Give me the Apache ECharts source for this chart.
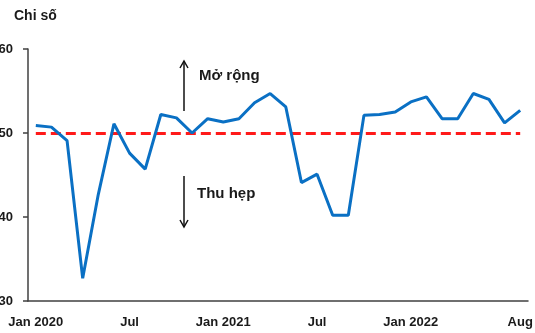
<!DOCTYPE html>
<html>
<head>
<meta charset="utf-8">
<script src="https://cdn.jsdelivr.net/npm/echarts@6/dist/echarts.min.js"></script>
<style>
  html, body { margin: 0; padding: 0; background: #ffffff; }
  #chart { width: 535px; height: 333px; }
</style>
</head>
<body>
<div id="chart"></div>
<script>
// Monthly index, Jan 2020 – Aug 2022
const months = [
  '2020-01','2020-02','2020-03','2020-04','2020-05','2020-06','2020-07','2020-08',
  '2020-09','2020-10','2020-11','2020-12','2021-01','2021-02','2021-03','2021-04',
  '2021-05','2021-06','2021-07','2021-08','2021-09','2021-10','2021-11','2021-12',
  '2022-01','2022-02','2022-03','2022-04','2022-05','2022-06','2022-07','2022-08'
];
const indexValues = [
  50.9, 50.7, 49.1, 32.7, 42.7, 51.1, 47.6, 45.7,
  52.2, 51.8, 50.0, 51.7, 51.3, 51.7, 53.6, 54.7,
  53.1, 44.1, 45.1, 40.2, 40.2, 52.1, 52.2, 52.5,
  53.7, 54.3, 51.7, 51.7, 54.7, 54.0, 51.2, 52.7
];
// Expansion / contraction threshold
const threshold = 50;
// Labels shown on the month axis
const tickMonths = ['2020-01','2020-07','2021-01','2021-07','2022-01','2022-08'];
const tickLabels = ['Jan 2020','Jul','Jan 2021','Jul','Jan 2022','Aug'];
const yTicks = { min: 30, max: 60, step: 10 };

const FONT = '"Liberation Sans", Arial, sans-serif';
const chart = echarts.init(document.getElementById('chart'), null, { renderer: 'canvas' });

function arrow(x, yTail, yTip) {
  const d = yTip < yTail ? 1 : -1;
  return {
    type: 'group',
    children: [
      { type: 'line', shape: { x1: x, y1: yTail, x2: x, y2: yTip },
        style: { stroke: '#111', lineWidth: 1.5 } },
      { type: 'polyline', shape: { points: [[x - 4, yTip + 7 * d], [x, yTip], [x + 4, yTip + 7 * d]] },
        style: { stroke: '#111', lineWidth: 1.5, fill: null } }
    ]
  };
}

chart.setOption({
  animation: false,
  backgroundColor: '#ffffff',
  grid: { left: 28, right: 7, top: 49, bottom: 32, containLabel: false, outerBoundsMode: 'none' },
  xAxis: {
    type: 'category',
    data: months,
    boundaryGap: true,
    axisLine: { lineStyle: { color: '#404040', width: 1.5 } },
    axisTick: { show: false },
    axisLabel: {
      interval: 0,
      margin: 15,
      color: '#1a1a1a',
      fontFamily: FONT,
      fontWeight: 'bold',
      fontSize: 13,
      formatter: function (v) {
        const i = tickMonths.indexOf(v);
        return i >= 0 ? tickLabels[i] : '';
      }
    },
    splitLine: { show: false }
  },
  yAxis: {
    type: 'value',
    min: yTicks.min,
    max: yTicks.max,
    interval: yTicks.step,
    axisLine: { show: true, lineStyle: { color: '#404040', width: 1.5 } },
    axisTick: { show: true, length: 5, lineStyle: { color: '#404040', width: 1.5 } },
    axisLabel: {
      margin: 15,
      color: '#1a1a1a',
      fontFamily: FONT,
      fontWeight: 'bold',
      fontSize: 13
    },
    splitLine: { show: false }
  },
  series: [{
    type: 'line',
    data: indexValues,
    symbol: 'none',
    lineStyle: { color: '#0A70C4', width: 3 },
    z: 3,
    markLine: {
      silent: true,
      symbol: ['none', 'none'],
      label: { show: false },
      lineStyle: { color: '#FF1A1A', width: 3, type: [10, 5] },
      z: 2,
      data: [[
        { coord: [months[0], threshold] },
        { coord: [months[months.length - 1], threshold] }
      ]]
    }
  }],
  graphic: [
    { type: 'text', left: 14, top: 9,
      style: { text: 'Chi số', fill: '#1a1a1a', font: 'bold 14px ' + FONT } },
    arrow(184, 111, 61),
    { type: 'text', left: 199, top: 68,
      style: { text: 'Mở rộng', fill: '#1a1a1a', font: 'bold 15px ' + FONT } },
    arrow(184, 176, 227),
    { type: 'text', left: 197, top: 186,
      style: { text: 'Thu hẹp', fill: '#1a1a1a', font: 'bold 15px ' + FONT } }
  ]
});
</script>
</body>
</html>
